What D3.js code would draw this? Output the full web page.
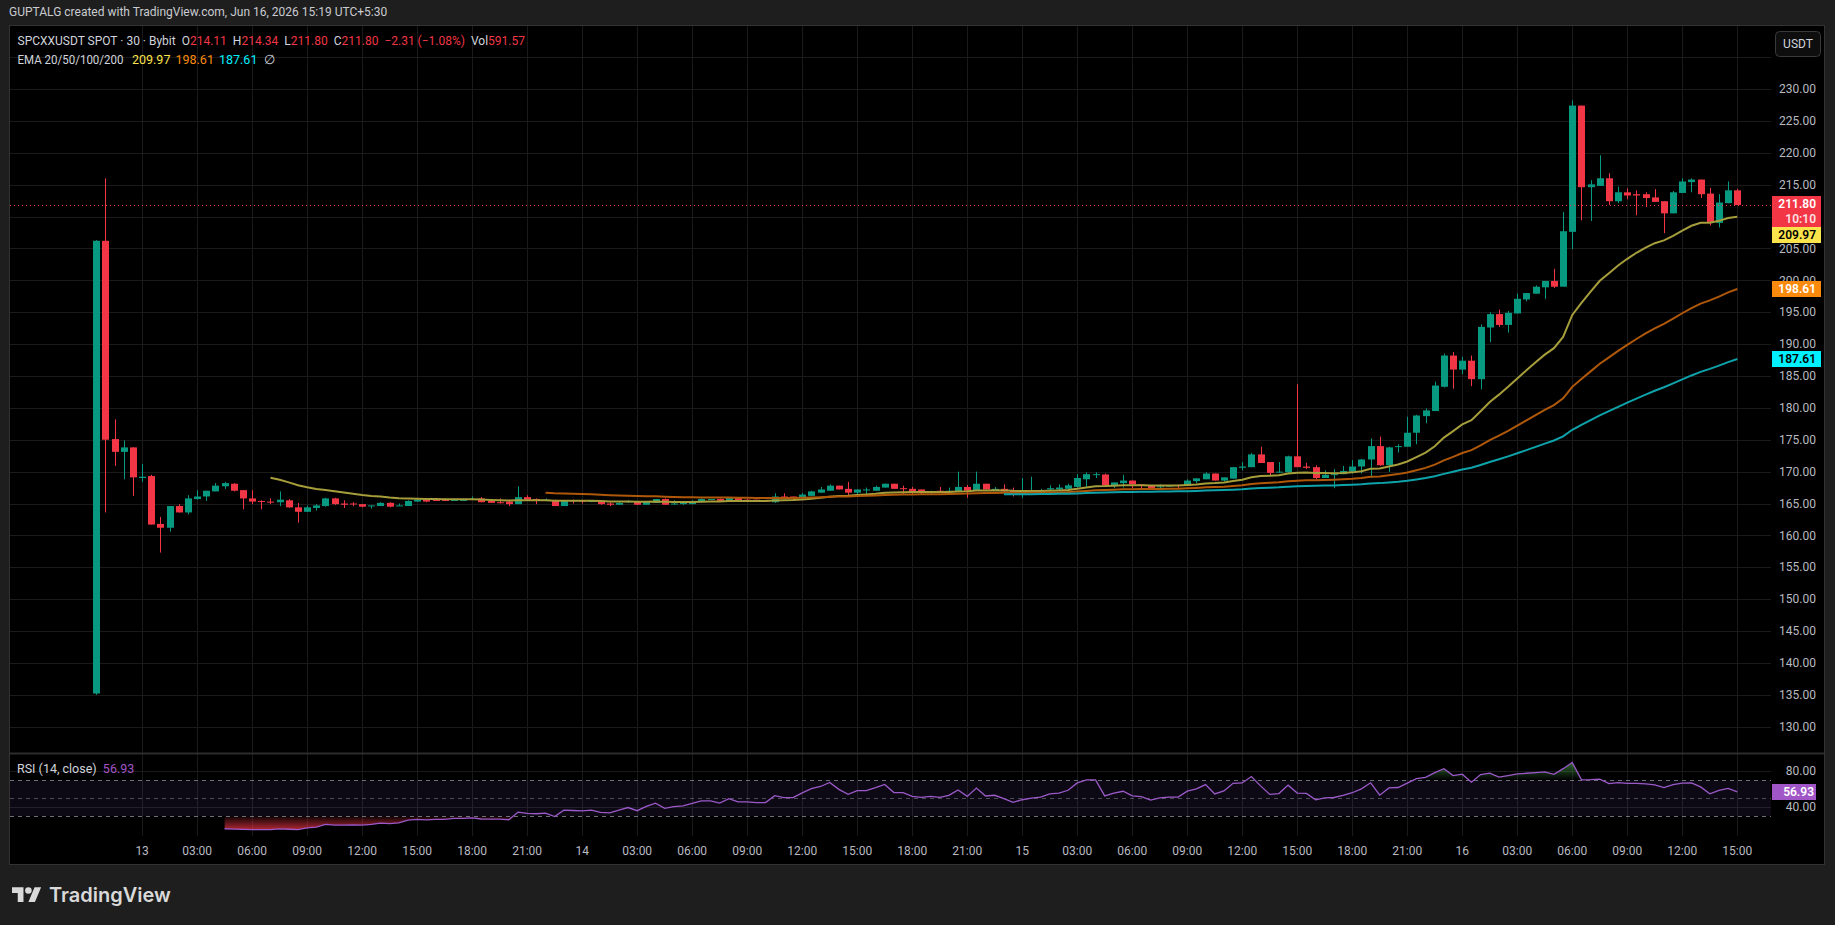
<!DOCTYPE html>
<html>
<head>
<meta charset="utf-8">
<script src="https://cdn.jsdelivr.net/npm/d3@7.9.0/dist/d3.min.js"></script>
<style>
  html, body { margin: 0; padding: 0; background: #1e1e1e; }
  svg { display: block; font-family: Roboto, "Liberation Sans", sans-serif; }
  .pre { white-space: pre; }
</style>
</head>
<body>
<svg id="chart" width="1835" height="925"></svg>
<script>
// SPCXXUSDT 30m candles, Jun 12 21:30 -> Jun 16 15:00
const firstBar = new Date(2026, 5, 12, 21, 30);
const opens = [
  135.2, 206.2, 175.1, 173.1, 173.8, 169.0, 169.3, 161.8, 161.2, 164.6,
  163.6, 165.7, 166.1, 166.9, 167.7, 168.1, 167.1, 165.8, 165.4, 165.3,
  165.2, 165.5, 164.4, 163.7, 164.3, 164.6, 165.8, 165.0, 165.0, 164.9,
  164.6, 164.6, 165.1, 164.6, 164.6, 165.3, 165.6, 165.6, 165.6, 165.4,
  165.4, 165.6, 165.8, 165.4, 165.2, 165.3, 164.9, 166.0, 165.7, 165.5,
  165.5, 164.6, 165.5, 165.5, 165.3, 165.3, 165.0, 164.8, 165.2, 165.3,
  164.8, 165.1, 165.7, 164.9, 164.9, 164.9, 165.3, 165.6, 165.7, 165.4,
  165.9, 165.6, 165.6, 165.5, 165.2, 166.1, 166.1, 165.8, 166.2, 166.7,
  167.0, 167.8, 167.3, 166.7, 167.1, 167.0, 167.5, 168.1, 167.4, 167.3,
  167.2, 166.8, 167.0, 166.8, 166.8, 167.6, 167.0, 168.1, 167.1, 167.3,
  167.0, 166.4, 166.6, 166.7, 167.2, 167.2, 167.3, 167.6, 168.8, 169.5,
  169.55, 167.85, 168.2, 168.6, 168.0, 167.9, 167.6, 167.75, 167.9, 167.75,
  168.5, 168.8, 169.7, 168.6, 168.9, 170.6, 170.7, 172.7, 171.5, 169.85,
  169.9, 172.4, 170.8, 170.7, 169.0, 169.5, 169.6, 170.0, 170.8, 171.9,
  174.0, 171.0, 173.9, 173.9, 176.1, 178.7, 179.5, 183.3, 188.2, 186.0,
  187.4, 184.5, 192.6, 194.7, 193.0, 194.8, 197.0, 197.9, 198.9, 199.9,
  199.0, 207.6, 227.4, 214.6, 214.8, 216.0, 212.4, 213.8, 213.5, 213.5,
  213.0, 212.4, 210.5, 213.7, 215.4, 215.8, 213.6, 209.0, 212.1, 214.11
];
const highs = [
  206.3, 216.0, 178.2, 174.9, 173.8, 171.2, 169.5, 162.9, 164.6, 164.9,
  166.3, 167.1, 167.0, 168.2, 168.4, 168.2, 167.1, 167.1, 165.5, 165.8,
  166.9, 165.7, 165.1, 164.7, 164.9, 165.9, 165.9, 165.5, 165.2, 164.9,
  164.7, 165.2, 165.2, 165.0, 165.5, 165.8, 165.7, 165.6, 165.8, 165.7,
  165.7, 166.1, 166.0, 165.7, 165.8, 165.4, 167.7, 166.3, 165.8, 165.8,
  165.6, 165.5, 165.6, 165.5, 165.4, 165.4, 165.2, 165.2, 165.5, 165.3,
  165.3, 165.7, 165.8, 165.5, 165.2, 165.5, 165.8, 165.7, 165.8, 166.0,
  166.0, 165.8, 165.6, 165.6, 166.6, 166.6, 166.1, 166.65, 167.0, 167.6,
  168.0, 167.8, 168.4, 167.2, 167.5, 167.8, 168.1, 168.1, 167.8, 167.6,
  167.2, 167.0, 167.6, 167.5, 170.0, 167.9, 170.0, 168.1, 167.6, 168.0,
  167.5, 169.0, 169.2, 167.3, 167.85, 168.0, 168.1, 169.6, 169.9, 169.9,
  169.7, 168.3, 169.5, 168.6, 168.0, 167.9, 168.0, 167.9, 167.95, 168.8,
  168.95, 169.9, 169.7, 169.1, 170.7, 171.5, 172.9, 173.9, 171.5, 171.5,
  172.5, 183.7, 171.4, 171.0, 170.2, 170.4, 170.9, 171.8, 172.0, 175.2,
  175.5, 173.9, 174.3, 178.6, 178.9, 179.9, 184.1, 188.5, 188.75, 188.0,
  188.2, 193.1, 195.0, 195.4, 195.2, 197.9, 198.0, 199.2, 199.9, 201.8,
  210.7, 228.2, 227.4, 215.7, 219.6, 216.8, 214.7, 214.4, 214.1, 213.8,
  214.3, 212.4, 214.0, 216.0, 216.0, 215.8, 214.5, 213.5, 215.5, 214.34
];
const lows = [
  135.0, 163.6, 170.9, 168.8, 166.2, 168.4, 161.7, 157.3, 160.6, 163.6,
  163.3, 165.6, 165.4, 166.9, 167.3, 166.9, 164.1, 164.9, 164.1, 164.9,
  164.6, 164.3, 162.0, 163.7, 163.9, 164.5, 164.8, 164.3, 164.6, 164.4,
  164.2, 164.6, 164.4, 164.6, 164.6, 165.3, 165.2, 165.4, 165.4, 165.4,
  165.4, 165.6, 165.2, 165.1, 165.0, 164.6, 164.9, 165.5, 164.9, 165.4,
  164.6, 164.6, 165.0, 165.0, 165.2, 164.8, 164.6, 164.8, 165.1, 164.8,
  164.8, 165.1, 164.8, 164.8, 164.8, 164.9, 165.2, 165.6, 165.3, 165.4,
  165.3, 165.4, 165.3, 165.3, 165.1, 165.7, 165.8, 165.8, 166.2, 166.7,
  167.0, 167.2, 166.1, 166.2, 166.5, 167.0, 167.5, 167.3, 166.4, 166.4,
  166.5, 166.4, 166.8, 166.4, 166.8, 165.9, 167.0, 167.2, 167.1, 166.7,
  166.1, 165.9, 166.6, 166.4, 167.0, 167.1, 167.3, 167.5, 167.6, 169.0,
  167.85, 167.4, 167.5, 167.4, 167.2, 167.3, 167.3, 167.7, 167.4, 167.75,
  168.2, 168.8, 168.6, 168.5, 168.9, 170.2, 170.7, 171.35, 169.3, 169.85,
  169.7, 170.7, 170.4, 168.8, 169.0, 167.4, 169.6, 169.7, 169.7, 169.0,
  170.9, 169.95, 173.0, 173.9, 174.3, 177.6, 179.5, 183.2, 183.0, 185.3,
  183.4, 182.9, 190.3, 192.7, 191.8, 194.8, 196.7, 197.9, 197.1, 198.8,
  199.0, 204.9, 209.4, 209.3, 214.8, 211.8, 212.1, 212.7, 210.2, 211.5,
  212.3, 207.4, 210.5, 213.7, 213.8, 212.9, 208.6, 208.3, 212.1, 211.80
];
const closes = [
  206.2, 175.0, 173.1, 173.8, 169.1, 169.2, 161.7, 161.2, 164.6, 163.6,
  165.8, 166.1, 167.0, 167.8, 168.2, 167.0, 165.8, 165.3, 165.3, 165.2,
  165.6, 164.4, 163.7, 164.4, 164.7, 165.8, 164.9, 164.8, 164.9, 164.5,
  164.7, 165.1, 164.5, 164.7, 165.4, 165.6, 165.3, 165.4, 165.4, 165.6,
  165.6, 165.7, 165.2, 165.1, 165.1, 164.9, 166.0, 165.6, 165.5, 165.6,
  164.6, 165.5, 165.4, 165.3, 165.4, 164.9, 164.8, 165.1, 165.4, 164.8,
  165.3, 165.7, 164.8, 165.0, 165.1, 165.4, 165.7, 165.7, 165.4, 165.9,
  165.5, 165.5, 165.4, 165.4, 166.1, 165.9, 165.9, 166.4, 166.9, 167.2,
  167.8, 167.2, 166.7, 167.2, 167.2, 167.6, 168.1, 167.3, 167.3, 166.9,
  166.8, 166.9, 166.8, 167.0, 167.6, 167.0, 168.1, 167.2, 167.3, 166.9,
  166.4, 166.7, 166.9, 167.0, 167.4, 167.5, 167.85, 169.0, 169.6, 169.6,
  167.85, 168.3, 168.6, 168.0, 167.9, 167.4, 167.7, 167.8, 167.8, 168.6,
  168.95, 169.7, 168.6, 169.1, 170.7, 170.8, 172.7, 171.35, 169.8, 170.0,
  172.4, 170.7, 170.6, 169.0, 169.5, 169.6, 170.1, 170.8, 171.9, 174.0,
  171.0, 173.8, 174.0, 176.1, 178.8, 179.6, 183.5, 188.2, 186.0, 187.4,
  184.5, 192.7, 194.7, 193.0, 194.9, 197.1, 198.0, 199.0, 199.9, 199.0,
  207.7, 227.4, 214.6, 215.05, 216.0, 212.4, 213.8, 213.3, 213.3, 212.9,
  212.3, 210.5, 213.8, 215.5, 215.8, 213.5, 209.0, 212.2, 214.11, 211.80
];

// text
const headerText = 'GUPTALG created with TradingView.com, Jun 16, 2026 15:19 UTC+5:30';
const symbolText = 'SPCXXUSDT SPOT · 30 · Bybit';
const ohlcLabels = ['O', 'H', 'L', 'C'];
const ohlcValues = ['214.11', '214.34', '211.80', '211.80'];
const changeText = '−2.31 (−1.08%)';
const volText = '591.57';
const emaPeriods = [20, 50, 100, 200];
const emaLast = ['209.97', '198.61', '187.61', '∅'];
const emaColors = ['#a69d3b', '#b0580a', '#0ea2aa'];
const emaLabelColors = ['#fbe44b', '#f98a0c', '#00f0ff'];
const rsiLast = '56.93';
const countdown = '10:10';

const W = 1835, H = 925;
const L = 10, R = 1771, T = 26, mainB = 753, rsiT = 754, rsiB = 836, axR = 1824, B = 864;
const UP = '#089981', DOWN = '#f23645', GRID = '#1a1a1a', AXIS_TXT = '#b8bac1';

const svg = d3.select('#chart');
const n = closes.length;
const times = d3.range(n).map(i => d3.timeMinute.offset(firstBar, 30 * i));

const x = d3.scaleTime().domain([times[0], times[n - 1]]).range([96.3, 1737.3]);
const y = d3.scaleLinear().domain([130, 230]).range([726.7, 89]);
const yr = d3.scaleLinear().domain([40, 80]).range([807, 771]);

// indicators from the closes
function ema(src, len) {
  const out = new Array(src.length).fill(null);
  if (src.length < len) return out;
  const a = 2 / (len + 1);
  let v = d3.mean(src.slice(0, len));
  out[len - 1] = v;
  for (let i = len; i < src.length; i++) { v = a * src[i] + (1 - a) * v; out[i] = v; }
  return out;
}
function rsi(src, len) {
  const out = new Array(src.length).fill(null);
  let up = 0, dn = 0;
  for (let i = 1; i < src.length; i++) {
    const ch = src[i] - src[i - 1];
    const u = Math.max(ch, 0), d = Math.max(-ch, 0);
    if (i <= len) { up += u / len; dn += d / len; }
    else { up = (up * (len - 1) + u) / len; dn = (dn * (len - 1) + d) / len; }
    if (i >= len) out[i] = dn === 0 ? 100 : 100 - 100 / (1 + up / dn);
  }
  return out;
}
const emas = emaPeriods.slice(0, 3).map(p => ema(closes, p));
const rsiVals = rsi(closes, 14);

// background + panel
svg.append('rect').attr('width', W).attr('height', H).attr('fill', '#1e1e1e');
svg.append('text').attr('x', 9).attr('y', 15.5).attr('font-size', 12).attr('fill', '#c9cbd0').text(headerText);
svg.append('rect').attr('x', 9.5).attr('y', 25.5).attr('width', axR - 9).attr('height', B - 25)
  .attr('fill', '#000').attr('stroke', '#333').attr('stroke-width', 1);

const defs = svg.append('defs');
defs.append('clipPath').attr('id', 'mainClip').append('rect')
  .attr('x', L).attr('y', T).attr('width', R - L).attr('height', mainB - T);
defs.append('clipPath').attr('id', 'rsiClip').append('rect')
  .attr('x', L).attr('y', rsiT).attr('width', R - L).attr('height', rsiB - rsiT);

// grid
const timeTicks = d3.timeHour.every(3).range(new Date(2026, 5, 13, 0), new Date(2026, 5, 16, 15, 1));
const priceTicks = d3.range(130, 236, 5);
const grid = svg.append('g');
grid.selectAll('.vg').data(timeTicks).join('line')
  .attr('x1', d => Math.round(x(d)) + 0.5).attr('x2', d => Math.round(x(d)) + 0.5)
  .attr('y1', T).attr('y2', rsiB).attr('stroke', GRID);
grid.selectAll('.hg').data(priceTicks).join('line')
  .attr('x1', L).attr('x2', R)
  .attr('y1', d => Math.round(y(d)) + 0.5).attr('y2', d => Math.round(y(d)) + 0.5).attr('stroke', GRID);
grid.selectAll('.rg').data([80, 40]).join('line')
  .attr('x1', L).attr('x2', R)
  .attr('y1', d => Math.round(yr(d)) + 0.5).attr('y2', d => Math.round(yr(d)) + 0.5).attr('stroke', GRID);

svg.append('line').attr('x1', L).attr('x2', axR).attr('y1', mainB + 0.5).attr('y2', mainB + 0.5)
  .attr('stroke', '#2c2c2c').attr('stroke-width', 2);

// candles
const main = svg.append('g').attr('clip-path', 'url(#mainClip)');
const bars = d3.range(n).map(i => ({ i, t: times[i], o: opens[i], h: highs[i], l: lows[i], c: closes[i] }));
const cg = main.append('g').selectAll('g').data(bars).join('g')
  .attr('fill', d => d.c >= d.o ? UP : DOWN);
cg.append('rect')
  .attr('x', d => Math.round(x(d.t)))
  .attr('width', 1)
  .attr('y', d => y(d.h))
  .attr('height', d => Math.max(1, y(d.l) - y(d.h)));
cg.append('rect')
  .attr('x', d => Math.round(x(d.t)) - 3)
  .attr('width', 7)
  .attr('y', d => y(Math.max(d.o, d.c)))
  .attr('height', d => Math.max(1, Math.abs(y(d.o) - y(d.c))));

// EMAs
emas.forEach((series, k) => {
  const line = d3.line().defined(d => d != null).x((d, i) => x(times[i])).y(d => y(d));
  main.append('path').datum(series).attr('d', line)
    .attr('fill', 'none').attr('stroke', emaColors[k]).attr('stroke-width', 2);
});

// last price line
const lastClose = closes[n - 1];
main.append('line').attr('x1', L).attr('x2', R)
  .attr('y1', Math.round(y(lastClose)) + 0.5).attr('y2', Math.round(y(lastClose)) + 0.5)
  .attr('stroke', DOWN).attr('stroke-dasharray', '1 3');

// price axis labels (210 sits fully under the last-price tag)
const yl = Math.round(y(lastClose));
svg.append('g').selectAll('text').data(priceTicks.filter(d => d <= 230 && d !== 210)).join('text')
  .attr('x', 1816).attr('y', d => y(d)).attr('dy', '0.35em').attr('text-anchor', 'end')
  .attr('font-size', 12).attr('fill', AXIS_TXT).text(d => d3.format('.2f')(d));

function priceBox(yTop, h, fill, lines, txtColor) {
  svg.append('rect').attr('x', 1772).attr('y', yTop).attr('width', 49).attr('height', h).attr('fill', fill);
  lines.forEach((s, j) => {
    svg.append('text').attr('x', 1816).attr('y', yTop + 8 + j * 15).attr('dy', '0.35em')
      .attr('text-anchor', 'end').attr('font-size', 12).attr('font-weight', 600)
      .attr('fill', txtColor).attr('opacity', j ? 0.85 : 1).text(s);
  });
}
priceBox(yl - 9, 31, DOWN, [d3.format('.2f')(lastClose), countdown], '#fff');
priceBox(yl + 22, 16, emaLabelColors[0], [emaLast[0]], '#000');
priceBox(Math.round(y(+emaLast[1])) - 8, 16, emaLabelColors[1], [emaLast[1]], '#fff');
priceBox(Math.round(y(+emaLast[2])) - 8, 16, emaLabelColors[2], [emaLast[2]], '#000');

// USDT button
svg.append('rect').attr('x', 1775.5).attr('y', 31.5).attr('width', 45).attr('height', 25).attr('rx', 4)
  .attr('fill', '#0e0e0e').attr('stroke', '#3a3a3a');
svg.append('text').attr('x', 1798).attr('y', 44).attr('dy', '0.35em').attr('text-anchor', 'middle')
  .attr('font-size', 12).attr('fill', '#d1d4dc').text('USDT');

// RSI pane
const rsiG = svg.append('g').attr('clip-path', 'url(#rsiClip)');
rsiG.append('rect').attr('x', L).attr('width', R - L).attr('y', yr(70)).attr('height', yr(30) - yr(70))
  .attr('fill', 'rgba(126,87,194,0.1)');
const g1 = defs.append('linearGradient').attr('id', 'obGrad').attr('gradientUnits', 'userSpaceOnUse')
  .attr('x1', 0).attr('x2', 0).attr('y1', yr(95)).attr('y2', yr(70));
g1.append('stop').attr('offset', 0).attr('stop-color', '#4caf50').attr('stop-opacity', 0.75);
g1.append('stop').attr('offset', 1).attr('stop-color', '#4caf50').attr('stop-opacity', 0);
const g2 = defs.append('linearGradient').attr('id', 'osGrad').attr('gradientUnits', 'userSpaceOnUse')
  .attr('x1', 0).attr('x2', 0).attr('y1', yr(30)).attr('y2', yr(12));
g2.append('stop').attr('offset', 0).attr('stop-color', DOWN).attr('stop-opacity', 0.05);
g2.append('stop').attr('offset', 1).attr('stop-color', DOWN).attr('stop-opacity', 0.85);
const rsiArea = (lvl, fn) => d3.area().defined(d => d != null).x((d, i) => x(times[i]))
  .y0(yr(lvl)).y1(d => yr(fn(d, lvl)));
rsiG.append('path').datum(rsiVals).attr('d', rsiArea(70, Math.max)).attr('fill', 'url(#obGrad)');
rsiG.append('path').datum(rsiVals).attr('d', rsiArea(30, Math.min)).attr('fill', 'url(#osGrad)');
rsiG.selectAll('.lvl').data([70, 50, 30]).join('line')
  .attr('x1', L).attr('x2', R).attr('y1', d => Math.round(yr(d)) + 0.5).attr('y2', d => Math.round(yr(d)) + 0.5)
  .attr('stroke', '#787b86').attr('stroke-dasharray', '4 4').attr('opacity', d => d === 50 ? 0.6 : 0.9);
rsiG.append('path').datum(rsiVals)
  .attr('d', d3.line().defined(d => d != null).x((d, i) => x(times[i])).y(d => yr(d)))
  .attr('fill', 'none').attr('stroke', '#9b59c9').attr('stroke-width', 1.3);

svg.append('g').selectAll('text').data([80, 40]).join('text')
  .attr('x', 1816).attr('y', d => yr(d)).attr('dy', '0.35em').attr('text-anchor', 'end')
  .attr('font-size', 12).attr('fill', AXIS_TXT).text(d => d3.format('.2f')(d));
const yRsi = Math.round(yr(+rsiLast));
svg.append('rect').attr('x', 1772).attr('y', yRsi - 8).attr('width', 44).attr('height', 16).attr('fill', '#a156c8');
svg.append('text').attr('x', 1814).attr('y', yRsi).attr('dy', '0.35em').attr('text-anchor', 'end')
  .attr('font-size', 12).attr('font-weight', 600).attr('fill', '#fff').text(rsiLast);

// time axis
const fmtTick = d => d.getHours() === 0 ? d3.timeFormat('%-d')(d) : d3.timeFormat('%H:%M')(d);
svg.append('g').selectAll('text').data(timeTicks).join('text')
  .attr('x', d => x(d)).attr('y', 851).attr('dy', '0.35em').attr('text-anchor', 'middle')
  .attr('font-size', 12).attr('fill', AXIS_TXT).text(fmtTick);

// legend line 1: segments flow with a fixed gap
const lg1 = svg.append('text').attr('x', 17.5).attr('y', 41).attr('dy', '0.35em')
  .attr('font-size', 12).attr('fill', '#d1d4dc');
lg1.append('tspan').text(symbolText);
ohlcLabels.forEach((k, j) => {
  lg1.append('tspan').attr('dx', 6).text(k);
  lg1.append('tspan').attr('fill', DOWN).text(ohlcValues[j]);
});
lg1.append('tspan').attr('dx', 6).attr('fill', DOWN).text(changeText);
lg1.append('tspan').attr('dx', 6).text('Vol');
lg1.append('tspan').attr('fill', DOWN).text(volText);

// legend line 2: value positions follow the screenshot
function seg(xp, yp, w, s, c) {
  const t = svg.append('text').attr('x', xp).attr('y', yp).attr('dy', '0.35em')
    .attr('font-size', 12.5).attr('fill', c || '#d1d4dc').text(s);
  if (w) t.attr('textLength', w).attr('lengthAdjust', 'spacingAndGlyphs');
}
seg(17.5, 59.5, 106, 'EMA ' + emaPeriods.join('/'));
[132, 175.5, 219].forEach((xp, j) => seg(xp, 59.5, null, emaLast[j], emaLabelColors[j]));
seg(264, 59.5, null, emaLast[3]);

const lg3 = svg.append('text').attr('class', 'pre').attr('x', 17).attr('y', 769).attr('dy', '0.35em')
  .attr('font-size', 12.5).attr('fill', '#d1d4dc');
lg3.append('tspan').text('RSI (14, close)  ');
lg3.append('tspan').attr('fill', '#a156c8').text(rsiLast);

// TradingView logo
const logo = svg.append('g').attr('transform', 'translate(12,884) scale(0.82)').attr('fill', '#d9d9d9');
logo.append('path').attr('d', 'M14 22H7V11H0V4h14v18zM28 22h-8l7.5-18h8L28 22z');
logo.append('circle').attr('cx', 20).attr('cy', 8).attr('r', 4);
svg.append('text').attr('x', 49).attr('y', 895).attr('dy', '0.35em').attr('font-size', 20)
  .attr('font-weight', 600).attr('font-family', 'Inter, Roboto, sans-serif').attr('fill', '#d9d9d9').text('TradingView');
</script>
</body>
</html>
